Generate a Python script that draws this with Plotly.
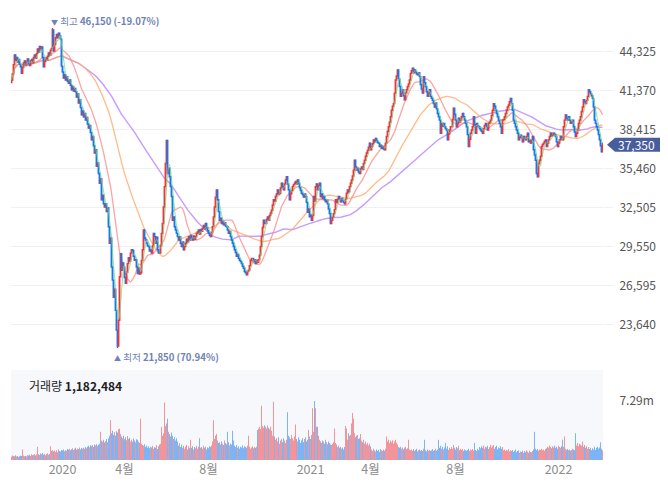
import pandas as pd
import plotly.graph_objects as go

# ---------------- data ----------------
start_date = "2019-10-18"
end_date = "2022-03-11"
krx_holidays = [
    "2019-12-25", "2019-12-31", "2020-01-01", "2020-01-24", "2020-01-27", "2020-04-15",
    "2020-04-30", "2020-05-01", "2020-05-05", "2020-08-17", "2020-09-30", "2020-10-01",
    "2020-10-02", "2020-10-09", "2020-12-25", "2020-12-31", "2021-01-01", "2021-02-11",
    "2021-02-12", "2021-03-01", "2021-05-05", "2021-05-19", "2021-08-16", "2021-09-20",
    "2021-09-21", "2021-09-22", "2021-10-04", "2021-10-11", "2021-12-31", "2022-01-31",
    "2022-02-01", "2022-02-02", "2022-03-01", "2022-03-09",
]

first_open = 42000

close_pre_crash = [  # 2019-10-18 .. 2020-03-06
    42200, 42650, 43350, 44100, 43700, 43900, 43550, 43750, 43400, 43200,
    42700, 43150, 43500, 43650, 43300, 43550, 43800, 43450, 43300, 43650,
    43750, 43500, 43900, 44100, 43850, 44200, 44550, 44300, 44750, 44500,
    44700, 43900, 43200, 43600, 43850, 43700, 44000, 44250, 44100, 44450,
    44600, 46000, 44400, 44900, 45400, 45650, 45400, 45750, 45550, 45300,
    43250, 42800, 42350, 42600, 42200, 42450, 42100, 41950, 42200, 41800,
    41450, 41700, 41350, 41550, 41300, 40900, 41150, 40450, 40700, 40100,
    39550, 39850, 39400, 39650, 39150, 39350, 38850, 38550, 38750, 38200,
    37650, 37900, 37200, 36650, 36900, 35650, 35900, 35100, 34350, 34700,
    33100, 33450, 32800, 32550, 32800, 32200, 32500, 31050, 29800, 30200,
]
close_crash_recovery = [  # 2020-03-09 .. 2020-10-08
    28000, 27000, 25700, 26300, 24700, 23200, 22000, 23950, 27250, 29000,
    27750, 28300, 28000, 27200, 26750, 27600, 28250, 28700, 28450, 29050,
    29300, 29250, 28800, 28500, 28550, 28000, 27500, 27900, 27450, 27550,
    28500, 29300, 30800, 30200, 30050, 29800, 29600, 29550, 29200, 29300,
    29050, 29600, 30550, 30300, 29800, 30250, 29300, 29050, 29050, 29600,
    30550, 31300, 32550, 34100, 35850, 37600, 35100, 35500, 34850, 34100,
    33350, 31550, 31800, 31050, 30800, 30550, 30300, 30050, 30300, 29800,
    29550, 29900, 29300, 29550, 29800, 30100, 29900, 30300, 30050, 30400,
    30200, 30050, 30350, 30100, 30300, 30550, 30650, 30800, 30500, 30850,
    30700, 30950, 31150, 30900, 31300, 31000, 30750, 30550, 30400, 30300,
    30600, 31050, 31800, 32550, 33300, 33850, 33100, 32200, 31550, 31700,
    31300, 31450, 31200, 31350, 31100, 31050, 30800, 30550, 30700, 30300,
    30050, 29800, 29550, 29300, 29100, 28800, 28950, 28650, 28500, 28400,
    28250, 28050, 27900, 27650, 27550, 27400, 27650, 27750, 28100, 28500,
    28650, 28650, 28400, 28550, 28250, 28500, 28350, 28550, 28900, 29550,
]
close_rally = [  # 2020-10-12 .. 2021-05-28
    30300, 31000, 31550, 31300, 31300, 31600, 31800, 31550, 31900, 32100,
    32300, 32700, 33100, 33000, 33350, 33550, 33850, 33500, 33600, 34000,
    34350, 34100, 33850, 34300, 34600, 34850, 34300, 33850, 33100, 33550,
    33800, 34100, 34250, 34350, 34500, 34300, 34600, 34350, 34000, 33800,
    33600, 33500, 33300, 33550, 33350, 32900, 32150, 32400, 31800, 31950,
    31550, 31900, 33350, 33000, 34100, 34300, 33850, 34150, 34350, 33350,
    33550, 33200, 33350, 33100, 32950, 33050, 32800, 32400, 32050, 31300,
    31550, 31800, 32050, 32350, 33100, 32900, 33150, 33350, 33150, 32950,
    33200, 33050, 32900, 32800, 33150, 33600, 33850, 33700, 34100, 34350,
    34600, 34900, 35350, 36100, 35600, 35350, 35500, 35200, 35100, 35450,
    35600, 35400, 35850, 36100, 36400, 36650, 36850, 37100, 37400, 36900,
    37150, 37350, 37650, 37500, 37750, 37600, 37450, 37400, 37150, 37250,
    37000, 37150, 36950, 36900, 37400, 37900, 38300, 38650, 39000, 39400,
    39900, 40200, 40400, 41200, 42200, 42500, 42950, 42300, 41700, 40950,
    41200, 41450, 41000, 40700, 41200, 41450, 41700, 41900, 42200, 42700,
]
close_range = [  # 2021-05-31 .. 2022-03-11
    42900, 43100, 42750, 42950, 42800, 42650, 42600, 42750, 42450, 41850,
    41500, 41200, 42450, 42000, 41700, 41300, 40950, 41200, 41450, 40950,
    40800, 40650, 40400, 40150, 40450, 40000, 39650, 39400, 39150, 38150,
    38900, 38700, 38900, 38650, 38500, 38400, 37650, 38100, 38400, 38650,
    38650, 39200, 40050, 39600, 39150, 38650, 38900, 39300, 39000, 39150,
    39400, 39650, 39400, 39150, 38900, 38650, 38050, 37150, 37700, 38150,
    38400, 38650, 39400, 38800, 38150, 38900, 38700, 38650, 38500, 38400,
    38300, 38150, 38500, 38750, 38900, 38650, 38400, 38900, 39000, 39150,
    39500, 39900, 40400, 40200, 39900, 39650, 39400, 39150, 38900, 38650,
    38150, 39150, 39200, 39400, 39650, 39900, 40150, 40300, 40550, 40800,
    40400, 39900, 39150, 38900, 38650, 38400, 38150, 37650, 37850, 38000,
    37800, 37500, 37900, 37750, 37650, 37900, 38150, 37500, 37600, 37400,
    37650, 37900, 36900, 36500, 36100, 35100, 34850, 35850, 36100, 36400,
    37150, 37300, 37400, 37550, 37650, 37150, 37400, 37650, 37900, 38150,
    37950, 38000, 38150, 38050, 37900, 37500, 37150, 37400, 37650, 37900,
    37800, 37650, 38650, 39150, 39550, 39300, 39150, 39400, 39150, 38900,
    39000, 39150, 38650, 38250, 37900, 38150, 38400, 38900, 39150, 39400,
    39800, 40150, 40700, 40550, 40400, 40650, 40950, 41450, 41300, 41150,
    41000, 40800, 40150, 39150, 38900, 38650, 38400, 38050, 37650, 37200,
    36750, 37350,
]

peak_high = 46150      # intraday high of the period
trough_low = 21850     # intraday low of the period

# volume in units of 10,000 shares
volume_pre_crash = [
    40, 55, 48, 45, 60, 42, 50, 38, 45, 52,
    48, 130, 55, 45, 50, 42, 60, 55, 65, 48,
    70, 58, 62, 75, 55, 68, 165, 70, 62, 80,
    72, 85, 65, 78, 60, 70, 82, 65, 75, 170,
    110, 125, 105, 118, 100, 120, 95, 130, 112, 105,
    125, 118, 130, 108, 122, 115, 135, 128, 140, 120,
    132, 145, 125, 138, 150, 128, 142, 135, 155, 130,
    148, 140, 152, 138, 160, 145, 165, 175, 158, 182,
    170, 185, 160, 190, 178, 195, 172, 188, 200, 350,
    240, 225, 250, 215, 235, 260, 220, 270, 300, 490,
]
volume_crash_recovery = [
    330, 360, 310, 345, 300, 355, 340, 380, 385, 320,
    290, 270, 300, 255, 280, 245, 295, 260, 275, 230,
    250, 225, 265, 240, 220, 255, 250, 230, 210, 510,
    200, 185, 175, 195, 160, 180, 150, 170, 145, 165,
    155, 175, 140, 160, 150, 185, 135, 170, 190, 200,
    410, 300, 330, 710, 420, 450, 510, 350, 320, 290,
    340, 300, 260, 280, 240, 270, 230, 180, 210, 160,
    190, 150, 175, 140, 165, 185, 130, 170, 145, 250,
    150, 170, 130, 160, 145, 175, 140, 165, 270, 150,
    160, 140, 175, 150, 165, 130, 155, 145, 170, 160,
    180, 230, 490, 260, 300, 320, 240, 210, 220, 190,
    230, 200, 185, 240, 210, 195, 350, 220, 180, 205,
    190, 360, 240, 175, 160, 185, 150, 170, 140, 165,
    155, 180, 145, 170, 160, 150, 175, 300, 165, 140,
    155, 170, 145, 160, 150, 165, 370, 390, 410, 380,
]
volume_rally = [
    670, 420, 400, 430, 410, 390, 425, 400, 380, 410,
    360, 300, 720, 290, 250, 270, 230, 280, 200, 240,
    260, 220, 270, 240, 210, 250, 590, 300, 280, 260,
    310, 270, 240, 290, 440, 260, 230, 280, 250, 210,
    240, 270, 220, 260, 280, 230, 250, 370, 290, 260,
    310, 640, 350, 729, 640, 410, 410, 300, 250, 230,
    210, 240, 230, 200, 250, 220, 195, 230, 210, 190,
    185, 200, 220, 390, 210, 190, 160, 175, 150, 165,
    140, 155, 130, 160, 420, 390, 250, 330, 300, 310,
    450, 580, 510, 330, 280, 300, 310, 260, 270, 320,
    240, 220, 250, 200, 230, 190, 210, 180, 200, 170,
    130, 110, 140, 120, 105, 130, 115, 125, 100, 135,
    120, 110, 130, 115, 140, 290, 230, 250, 210, 240,
    220, 245, 200, 230, 250, 210, 190, 160, 150, 165,
    140, 155, 130, 150, 165, 135, 145, 250, 130, 120,
]
volume_range = [
    130, 115, 135, 110, 125, 140, 105, 120, 130, 115,
    125, 110, 140, 250, 120, 105, 130, 115, 125, 110,
    120, 135, 110, 125, 140, 115, 130, 250, 150, 175,
    140, 165, 130, 155, 210, 140, 170, 125, 150, 135,
    160, 140, 185, 150, 130, 160, 145, 175, 120, 140,
    125, 135, 110, 130, 120, 115, 125, 140, 110, 130,
    120, 135, 115, 210, 125, 110, 140, 120, 160, 145,
    170, 150, 180, 140, 165, 155, 175, 135, 160, 185,
    150, 170, 185, 140, 160, 175, 130, 155, 145, 170,
    140, 160, 120, 130, 110, 125, 115, 135, 105, 120,
    110, 125, 100, 115, 130, 95, 110, 120, 90, 105,
    100, 115, 85, 110, 95, 120, 105, 90, 115, 100,
    95, 110, 130, 350, 140, 120, 135, 115, 130, 125,
    140, 120, 130, 115, 135, 145, 165, 150, 175, 160,
    145, 170, 155, 180, 150, 165, 140, 175, 160, 150,
    170, 250, 160, 290, 140, 125, 135, 120, 130, 115,
    125, 140, 130, 120, 330, 180, 210, 170, 200, 190,
    175, 230, 165, 185, 150, 170, 140, 160, 135, 150,
    120, 145, 130, 165, 125, 150, 165, 140, 155, 220,
    140, 118,
]
last_volume = 1182484

ma_windows = [5, 20, 60, 120]
ma_colors = ["rgba(120,215,120,0.75)", "rgba(255,140,140,0.8)",
             "rgba(255,170,105,0.8)", "rgba(185,130,255,0.8)"]
ma_widths = [1.0, 1.3, 1.3, 1.4]

price_ticks = [23640, 26595, 29550, 32505, 35460, 38415, 41370, 44325]
x_tick_dates = ["2020-01-02", "2020-04-01", "2020-08-03", "2021-01-04",
                "2021-04-01", "2021-08-02", "2022-01-03"]
x_tick_text = ["2020", "4월", "8월", "2021", "4월", "8월", "2022"]

# ---------------- build ----------------
close = close_pre_crash + close_crash_recovery + close_rally + close_range
volume = [v * 10000 for v in volume_pre_crash + volume_crash_recovery + volume_rally + volume_range]
volume[-1] = last_volume

hol = set(pd.to_datetime(krx_holidays))
all_days = [d for d in pd.bdate_range(start_date, end_date) if d not in hol]
n = min(len(all_days), len(close), len(volume))
dates = [d.strftime("%Y-%m-%d") for d in all_days[:n]]
close = close[:n]
volume = volume[:n]

opens = [first_open] + close[:-1]
highs = [max(o, c) for o, c in zip(opens, close)]
lows = [min(o, c) for o, c in zip(opens, close)]
i_peak = max(range(n), key=lambda i: highs[i])
i_trough = min(range(n), key=lambda i: lows[i])
highs[i_peak] = max(highs[i_peak], peak_high)
lows[i_trough] = min(lows[i_trough], trough_low)

s = pd.Series(close, dtype=float)
mas = [s.rolling(w, min_periods=1).mean() for w in ma_windows]

UP = "#f0353a"
DOWN = "#1478ee"
UP_V = "#f2959a"
DOWN_V = "#7db5f4"
vcolors = [UP_V if c >= o else DOWN_V for o, c in zip(opens, close)]

last_close = close[-1]
pct_high = (last_close / peak_high - 1) * 100
pct_low = (last_close / trough_low - 1) * 100

# layout geometry (page body adds an 8px offset at left/top)
OFF = 8
W, H = 668 - OFF, 486 - OFF
ML, MR, MT, MB = 11 - OFF, 65, 12 - OFF, 26
plot_w = W - ML - MR
plot_h = H - MT - MB
price_dom = [(460 - 362) / plot_h, 1.0]
vol_dom = [0.0, 90 / plot_h]
price_range = [20780, 47360]
vmax = max(volume)
vol_range = [0, vmax * 90 / 59]

fig = go.Figure()
# longer moving averages on the base price axis (drawn first)
for ma, col, lw in list(zip(mas, ma_colors, ma_widths))[1:][::-1]:
    fig.add_trace(go.Scatter(x=dates, y=ma, mode="lines",
                             line=dict(color=col, width=lw),
                             showlegend=False, hoverinfo="skip",
                             xaxis="x", yaxis="y"))
# candles on an overlaying twin axis so they sit on top of the averages
fig.add_trace(go.Candlestick(
    x=dates, open=opens, high=highs, low=lows, close=close,
    increasing=dict(line=dict(color=UP, width=1.4), fillcolor=UP),
    decreasing=dict(line=dict(color=DOWN, width=1.4), fillcolor=DOWN),
    whiskerwidth=0, showlegend=False, hoverinfo="skip",
    xaxis="x", yaxis="y3"))
# 5-day average drawn above the candles
fig.add_trace(go.Scatter(x=dates, y=mas[0], mode="lines",
                         line=dict(color=ma_colors[0], width=ma_widths[0]),
                         showlegend=False, hoverinfo="skip", xaxis="x", yaxis="y4"))
fig.add_trace(go.Bar(x=dates, y=volume, marker=dict(color=vcolors, line=dict(width=0)),
                     showlegend=False, hoverinfo="skip", xaxis="x2", yaxis="y2"))

grid = "#eef0f4"
tickfont = dict(size=12, color="#555555")

# price label box position
yp = price_dom[0] + (last_close - price_range[0]) / (price_range[1] - price_range[0]) * (price_dom[1] - price_dom[0])

fig.update_layout(
    width=W, height=H,
    margin=dict(l=ML, r=MR, t=MT, b=MB, autoexpand=False),
    paper_bgcolor="white", plot_bgcolor="white",
    font=dict(family="Noto Sans CJK KR, Noto Sans, sans-serif"),
    bargap=0.15,
    showlegend=False,
    xaxis=dict(type="category", domain=[0, 1], anchor="y", showticklabels=False,
               showgrid=False, zeroline=False, rangeslider=dict(visible=False),
               range=[-0.5, n - 0.5], fixedrange=True),
    xaxis2=dict(type="category", domain=[0, 1], anchor="y2", matches="x",
                tickmode="array", tickvals=x_tick_dates, ticktext=x_tick_text,
                showgrid=False, zeroline=False, ticks="", showline=False,
                tickfont=dict(size=12.5, color="#8c8c8c")),
    yaxis=dict(domain=price_dom, range=price_range, side="right",
               tickmode="array", tickvals=price_ticks,
               ticktext=[f"{v:,}" for v in price_ticks],
               showgrid=True, gridcolor=grid, gridwidth=1, zeroline=False,
               ticks="outside", ticklen=9, tickcolor=grid, ticklabelstandoff=4,
               tickfont=tickfont, showline=False),
    yaxis3=dict(overlaying="y", range=price_range, side="right", visible=False,
                showgrid=False, zeroline=False),
    yaxis4=dict(overlaying="y", range=price_range, side="right", visible=False,
                showgrid=False, zeroline=False),
    yaxis2=dict(domain=vol_dom, range=vol_range, side="right",
                tickmode="array", tickvals=[vmax], ticktext=[f"{vmax/1e6:.2f}m"],
                showgrid=False, zeroline=False,
                ticks="outside", ticklen=9, tickcolor="rgba(0,0,0,0)", ticklabelstandoff=4,
                tickfont=tickfont, showline=False),
    shapes=[
        dict(type="rect", xref="paper", yref="paper", x0=0, x1=1,
             y0=vol_dom[0], y1=vol_dom[1], fillcolor="#f7f8fc",
             line=dict(width=0), layer="below"),
        dict(type="path", xref="paper", yref="paper", xsizemode="pixel", ysizemode="pixel",
             xanchor=1, yanchor=yp,
             path="M 4 -1 L 12 6 L 66 6 L 66 -8 L 12 -8 Z",
             fillcolor="#4a5d9b", line=dict(width=0), layer="above"),
    ],
    annotations=[
        dict(x=dates[i_peak], y=peak_high, xref="x", yref="y",
             text=f"<span style='font-size:7px'>▼</span> 최고 <b>{peak_high:,} ({pct_high:.2f}%)</b>",
             showarrow=False, xanchor="left", yanchor="bottom", xshift=-4, yshift=-2,
             font=dict(size=9.6, color="#6f82b8")),
        dict(x=dates[i_trough], y=trough_low, xref="x", yref="y",
             text=f"<span style='font-size:7px'>▲</span> 최저 <b>{trough_low:,} ({pct_low:.2f}%)</b>",
             showarrow=False, xanchor="left", yanchor="top", xshift=-6, yshift=0,
             font=dict(size=9.6, color="#6f82b8")),
        dict(x=1, y=yp, xref="paper", yref="paper", text=f"{last_close:,}",
             showarrow=False, xanchor="left", yanchor="middle", xshift=14, yshift=-1,
             borderpad=0, font=dict(size=12, color="white")),
        dict(x=(27 - 11) / plot_w, y=(460 - 385) / plot_h, xref="paper", yref="paper",
             text=f"거래량 <b>{volume[-1]:,}</b>", showarrow=False,
             xanchor="left", yanchor="middle",
             font=dict(size=12, color="#222222")),
    ],
)

fig.write_html("out.html")
